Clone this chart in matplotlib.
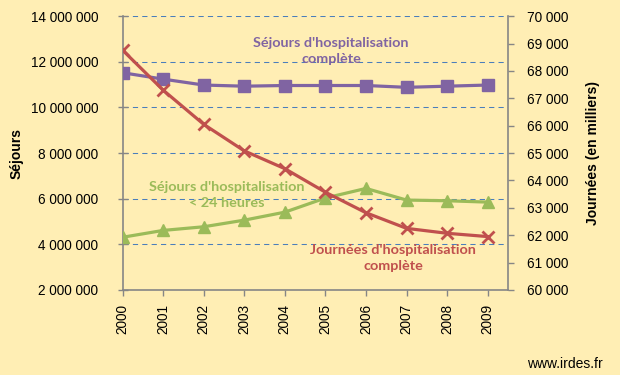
import matplotlib
matplotlib.use("Agg")
import matplotlib.pyplot as plt
from matplotlib.ticker import FuncFormatter, MultipleLocator

# Data
years = [2000, 2001, 2002, 2003, 2004, 2005, 2006, 2007, 2008, 2009]
sejours_complete = [11.52e6, 11.24e6, 10.98e6, 10.93e6, 10.96e6, 10.96e6, 10.96e6, 10.88e6, 10.93e6, 10.98e6]
sejours_24h = [4.31e6, 4.61e6, 4.77e6, 5.06e6, 5.41e6, 6.03e6, 6.45e6, 5.94e6, 5.91e6, 5.85e6]
journees = [68760, 67300, 66050, 65080, 64430, 63570, 62820, 62250, 62070, 61950]

bg = "#FFEEB4"
purple = "#8064A2"
green = "#9BBB59"
red = "#C0504D"
axis_col = "#868686"

plt.rcParams['font.family'] = ['Liberation Sans', 'DejaVu Sans']

fig = plt.figure(figsize=(6.2, 3.75), dpi=100, facecolor=bg)
ax = fig.add_axes([0.1976, 0.2267, 0.6218, 0.7303])
ax.set_facecolor(bg)
ax2 = ax.twinx()

spaced = FuncFormatter(lambda v, p: f"{int(round(v)):,}".replace(",", " "))

ax.set_ylim(2e6, 14e6)
ax.yaxis.set_major_locator(MultipleLocator(2e6))
ax.yaxis.set_major_formatter(spaced)
ax.set_xlim(2000, 2009.5)
ax.set_xticks(years)
ax.set_xticklabels([str(y) for y in years], rotation=90)

ax2.set_ylim(60000, 70000)
ax2.yaxis.set_major_locator(MultipleLocator(1000))
ax2.yaxis.set_major_formatter(spaced)

for y in range(4, 16, 2):
    ax.axhline(y * 1e6, color="#4A7EBB", lw=0.75, ls=(0, (5, 4)), zorder=0, snap=True)

for a in (ax, ax2):
    for s in a.spines.values():
        s.set_visible(False)
ax.spines['left'].set_visible(True)
ax.spines['bottom'].set_visible(True)
ax2.spines['right'].set_visible(True)
for s in (ax.spines['left'], ax.spines['bottom'], ax2.spines['right']):
    s.set_color(axis_col)
    s.set_linewidth(1.2)

ax.tick_params(axis='y', direction='inout', length=7, width=1, color=axis_col,
               labelsize=9.8, pad=14)
ax.tick_params(axis='x', direction='out', length=4, width=1, color=axis_col,
               labelsize=9.8, pad=6)
ax2.tick_params(axis='y', direction='out', length=4, width=1, color=axis_col,
                labelsize=9.8, pad=10)

ax.plot(years, sejours_complete, color=purple, lw=2.3, marker='s', ms=8, zorder=3)
ax.plot(years, sejours_24h, color=green, lw=2.3, marker='^', ms=8, zorder=3)
ax2.plot(years, journees, color=red, lw=2.3, marker='x', ms=8, mew=2, zorder=3)

ax.set_ylabel("Séjours", fontsize=10, fontweight='bold', labelpad=5)
ax2.set_ylabel("Journées (en milliers)", fontsize=10, fontweight='bold', labelpad=12)

lab_font = ['Lato', 'DejaVu Sans']
fig.text(331 / 620, 1 - 51 / 375, "Séjours d'hospitalisation\ncomplète", color=purple,
         fontsize=10.4, fontweight='bold', family=lab_font, ha='center', va='center',
         linespacing=1.4)
fig.text(227 / 620, 1 - 195 / 375, "Séjours d'hospitalisation\n< 24 heures", color=green,
         fontsize=10.4, fontweight='bold', family=lab_font, ha='center', va='center',
         linespacing=1.4)
fig.text(393 / 620, 1 - 258 / 375, "Journées d'hospitalisation\ncomplète", color=red,
         fontsize=10.4, fontweight='bold', family=lab_font, ha='center', va='center',
         linespacing=1.4)

fig.text(565 / 620, 1 - 364 / 375, "www.irdes.fr", fontsize=10, ha='center', va='center')

fig.savefig("out.png", dpi=100, facecolor=bg)
